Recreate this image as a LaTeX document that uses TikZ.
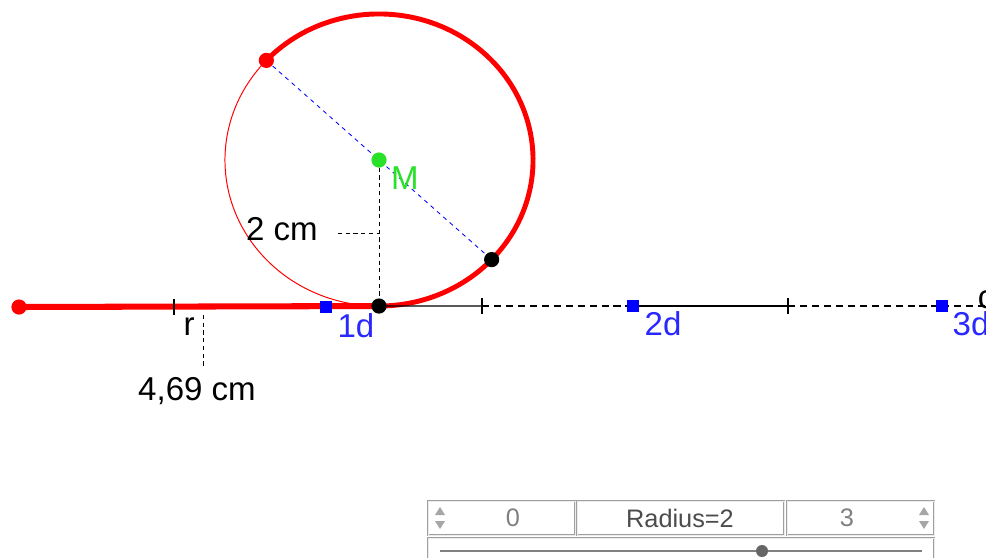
\documentclass[tikz,border=0pt]{standalone}
\usepackage{fontspec}
\setmainfont{Liberation Sans}
\definecolor{mgreen}{RGB}{40,225,40}
\definecolor{lblue}{RGB}{40,40,255}
\tikzset{
  pt/.style={circle, fill=#1, inner sep=0pt, minimum size=0.38cm},
  sq/.style={rectangle, fill=blue, inner sep=0pt, minimum size=0.3cm},
  lbl/.style={font=\fontsize{23.5}{26}\selectfont, inner sep=0pt},
  wtxt/.style={font=\fontsize{18}{20}\selectfont, inner sep=0pt},
  leader/.style={dash pattern=on 3pt off 2.5pt, line width=0.7pt},
  axisdash/.style={dash pattern=on 5pt off 3.5pt, line width=0.9pt},
  widget/.style={draw=gray!75, double=gray!15, double distance=0.6pt, inner sep=0pt},
}
\usetikzlibrary{positioning}
\begin{document}
\begin{tikzpicture}[x=0.025cm, y=-0.025cm]
  \useasboundingbox (0,0) rectangle (986,558);
  % circle and its points
  \coordinate (M) at (379,160);
  \coordinate (P) at ([shift={(137:3.85cm and 3.65cm)}]M);
  \coordinate (Q) at ([shift={(-43:3.85cm and 3.65cm)}]M);
  \coordinate (T) at ([shift={(-90:3.85cm and 3.65cm)}]M);
  \draw[red, line width=0.7pt] (T) arc[start angle=-90, end angle=-223, x radius=3.85cm, y radius=3.65cm];
  \draw[red, line width=3.5pt] (P) arc[start angle=137, end angle=-90, x radius=3.85cm, y radius=3.65cm];
  % axis
  \coordinate (L) at (19,307);
  \coordinate (A0) at (174,307);
  \coordinate (D1) at (326,307);
  \coordinate (A1) at (482,306);
  \coordinate (D2) at (633,306);
  \coordinate (A2) at (788,306);
  \coordinate (D3) at (942,306);
  \coordinate (E) at (1000,306);
  \draw[line width=0.9pt] (T) -- (A1);
  \draw[axisdash] (A1) -- (D2);
  \draw[line width=0.9pt] (D2) -- (A2);
  \draw[axisdash] (A2) -- (D3);
  \draw[axisdash] (D3) -- (E);
  \draw[red, line width=4.3pt] (L) -- (T);
  \foreach \a in {A0,A1,A2}
    \draw[line width=0.9pt] ([yshift=0.2cm]\a) -- ([yshift=-0.2cm]\a);
  % diameter and measures
  \draw[blue, dash pattern=on 3pt off 3pt, line width=0.6pt] (P) -- (Q);
  \draw[leader] (M) -- (T);
  \coordinate (K0) at (338,233);
  \coordinate (K) at (379,233);
  \draw[leader] (K0) -- (K);
  \coordinate (R0) at (203,315);
  \coordinate (R1) at (203,368);
  \draw[leader] (R0) -- (R1);
  % points
  \node[pt=red] (Ldot) at (L) {};
  \node[pt=red] (Pdot) at (P) {};
  \node[pt=black] (Qdot) at (Q) {};
  \node[pt=black] (Tdot) at (T) {};
  \node[pt=mgreen] (Mdot) at (M) {};
  \node[sq] (sq1) at (D1) {};
  \node[sq] (sq2) at (D2) {};
  \node[sq] (sq3) at (D3) {};
  % labels
  \node[lbl] (rlbl) at (189,327) {r};
  \node[lbl] (len) at (197,391) {4,69 cm};
  \node[lbl] (rad) at (282,229) {2 cm};
  \node[lbl, text=mgreen] (Mlbl) at (405,178) {M};
  \node[lbl, text=lblue] (l1) at (356,326) {1d};
  \node[lbl, text=lblue] (l2) at (663,324) {2d};
  \node[lbl, text=lblue] (l3) at (971,324) {3d};
  \node[lbl] (clbl) at (986,300) {c};
  % slider
  \node[widget, minimum width=3.675cm, minimum height=0.85cm] (lo) at (501.5,518) {};
  \node[widget, minimum width=5.175cm, minimum height=0.85cm] (mid) at (680.5,518) {};
  \node[widget, minimum width=3.675cm, minimum height=0.85cm] (hi) at (860.5,518) {};
  \node[widget, anchor=north west, minimum width=12.65cm, minimum height=0.7cm] (bar) at (428,538) {};
  \node[wtxt, text=gray] (lov) at (513,518) {0};
  \node[wtxt, text=black!70] (midv) at (680,518) {Radius=2};
  \node[wtxt, text=gray] (hiv) at (847,518) {3};
  \foreach \x in {440,924} {
    \fill[gray!70] (\x-5,515) -- (\x,507) -- (\x+5,515) -- cycle;
    \fill[gray!70] (\x-5,521) -- (\x,529) -- (\x+5,521) -- cycle;
  }
  \coordinate (s0) at (440,551);
  \coordinate (s1) at (922,551);
  \draw[gray, line width=0.8pt] (s0) -- (s1);
  \node[circle, fill=gray!80!black, inner sep=0pt, minimum size=0.3cm] (knob) at (762,551) {};
\end{tikzpicture}
\end{document}
